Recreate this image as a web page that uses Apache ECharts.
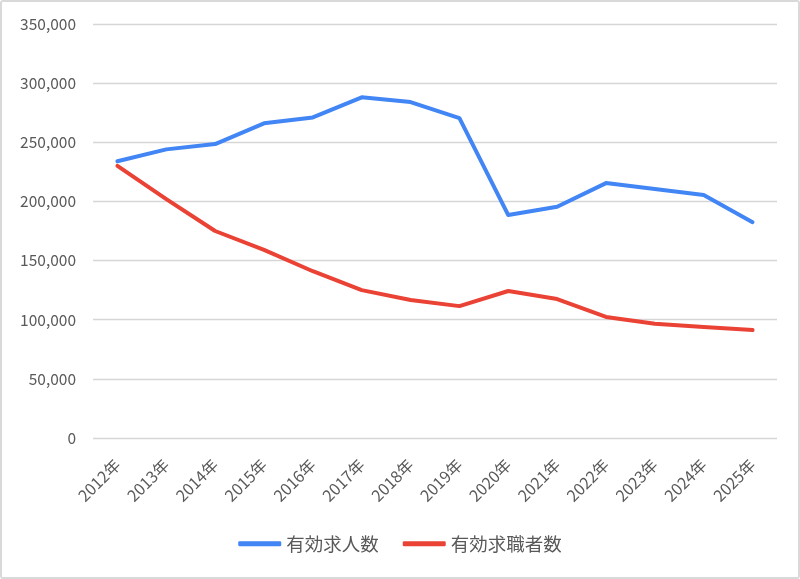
<!DOCTYPE html>
<html>
<head>
<meta charset="utf-8">
<script src="https://cdn.jsdelivr.net/npm/echarts@6/dist/echarts.min.js"></script>
<style>
  html, body { margin: 0; padding: 0; background: #fff; }
  #main { width: 800px; height: 579px; box-sizing: border-box; border: 2px solid #d9d9d9; border-radius: 3px; }
</style>
</head>
<body>
<div id="main"></div>
<script>
// 年度
var years = ['2012年', '2013年', '2014年', '2015年', '2016年', '2017年', '2018年',
  '2019年', '2020年', '2021年', '2022年', '2023年', '2024年', '2025年'];
// 有効求人数
var jobOffers = [234000, 244000, 248500, 266000, 271000, 288000, 284000,
  270500, 188500, 195500, 215500, 210500, 205500, 182500];
// 有効求職者数
var jobSeekers = [230000, 202000, 175000, 159000, 141000, 125000, 116700,
  111500, 124300, 117500, 102300, 96500, 93800, 91300];

var chart = echarts.init(document.getElementById('main'), null, { renderer: 'canvas' });
var font = '"Noto Sans CJK JP", "Noto Sans", sans-serif';

var option = {
  backgroundColor: '#ffffff',
  animation: false,
  textStyle: { fontFamily: font },
  color: ['#4285f4', '#ea4335'],
  grid: { left: 91, right: 21, top: 22, bottom: 139 },
  legend: {
    bottom: 19,
    left: 'center',
    itemWidth: 43,
    itemHeight: 5,
    itemGap: 24,
    icon: 'roundRect',
    textStyle: { color: '#595959', fontSize: 18.5, fontFamily: font },
    data: ['有効求人数', '有効求職者数']
  },
  xAxis: {
    type: 'category',
    data: years,
    boundaryGap: true,
    axisLine: { show: false },
    axisTick: { show: false },
    axisLabel: { rotate: 45, color: '#595959', fontSize: 16, margin: 24, fontFamily: font }
  },
  yAxis: {
    type: 'value',
    min: 0,
    max: 350000,
    interval: 50000,
    axisLine: { show: false },
    axisTick: { show: false },
    splitLine: { lineStyle: { color: '#d6d6d6', width: 1.3 } },
    axisLabel: {
      color: '#595959', fontSize: 15.5, margin: 17, fontFamily: font,
      formatter: function (v) { return v.toLocaleString('en-US'); }
    }
  },
  series: [{
    name: '有効求人数',
    type: 'line',
    data: jobOffers,
    symbol: 'none',
    lineStyle: { width: 4, cap: 'round', join: 'round' }
  }, {
    name: '有効求職者数',
    type: 'line',
    data: jobSeekers,
    symbol: 'none',
    lineStyle: { width: 4, cap: 'round', join: 'round' }
  }]
};

chart.setOption(option);
</script>
</body>
</html>
